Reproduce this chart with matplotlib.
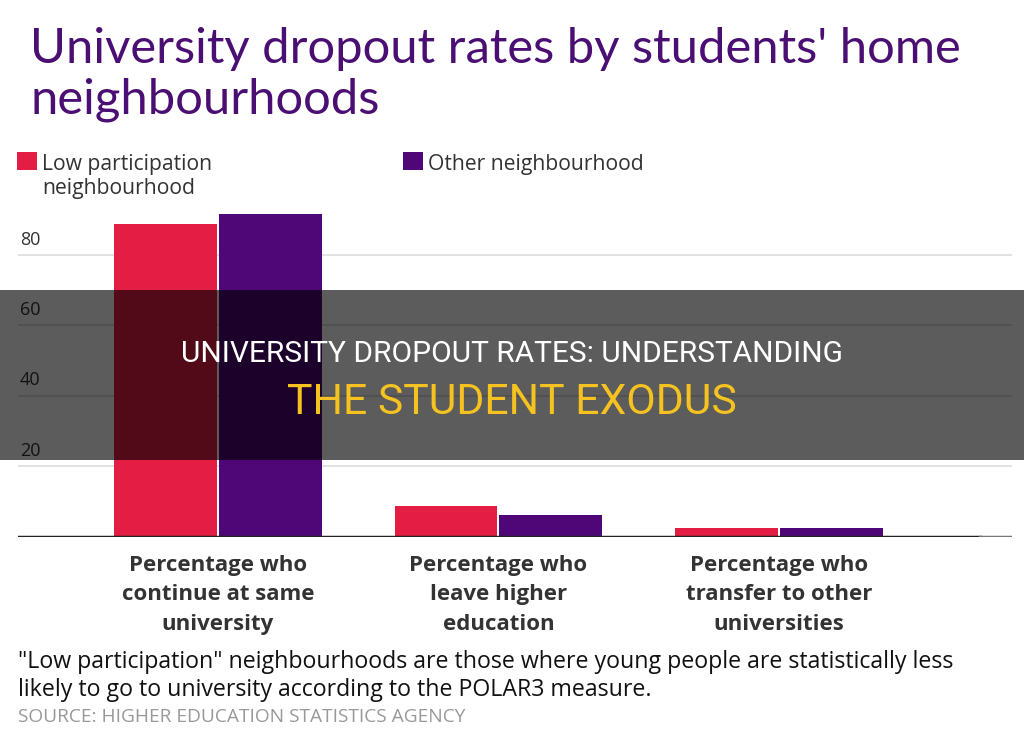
import matplotlib
matplotlib.use("Agg")
import matplotlib.pyplot as plt
from matplotlib.patches import Rectangle
import numpy as np

categories = ["Percentage who\ncontinue at same\nuniversity",
              "Percentage who\nleave higher\neducation",
              "Percentage who\ntransfer to other\nuniversities"]
series_names = ["Low participation\nneighbourhood", "Other neighbourhood"]
low_participation = [88.8, 8.8, 2.4]
other_neighbourhood = [91.6, 6.0, 2.3]
yticks = [20, 40, 60, 80]

RED = "#E31D43"
PURPLE = "#4F0677"
TITLE_C = "#4B0F73"
BODY = "Open Sans"

W, H = 1024, 736
fig = plt.figure(figsize=(W / 100, H / 100), dpi=100)
fig.patch.set_facecolor("white")

def fx(px):
    return px / W

def fy(py):
    return 1 - py / H

ymax = 98
ax = fig.add_axes([fx(18), fy(536.5), fx(1012) - fx(18), 98 * 3.52 / H])
x = np.arange(len(categories))
bw = 0.367
off = 0.187
ax.bar(x - off, low_participation, bw, color=RED, zorder=3)
ax.bar(x + off, other_neighbourhood, bw, color=PURPLE, zorder=3)
ax.set_xlim(-0.713, 2.831)
ax.set_ylim(0, ymax)
for s in ax.spines.values():
    s.set_visible(False)
ax.set_xticks([])
ax.set_yticks(yticks)
ax.set_yticklabels([])
ax.tick_params(axis="y", length=0)
ax.grid(axis="y", color="#dddddd", linewidth=1.2, zorder=0)
ax.axhline(0, color="#222222", linewidth=2.5, zorder=4, xmax=(980 - 18) / (1012 - 18))
ax.axhline(0, color="#777777", linewidth=2.5, zorder=4, xmin=(980 - 18) / (1012 - 18))
ax.set_facecolor("none")
for t in yticks:
    ax.text(0.002, t + 1.8, str(t), transform=ax.get_yaxis_transform(),
            ha="left", va="bottom", fontsize=13, color="#333333", family=BODY)

# category labels
for i, c in enumerate(categories):
    ax.text(i, -5.25, c, transform=ax.transData, ha="center", va="top",
            fontsize=16, fontweight="bold", color="#333333", family=BODY,
            linespacing=1.52)

# title
fig.text(fx(30), fy(63), "University dropout rates by students' home",
         fontsize=35.3, color=TITLE_C, family="Lato", ha="left", va="baseline")
fig.text(fx(30), fy(113), "neighbourhoods",
         fontsize=35.3, color=TITLE_C, family="Lato", ha="left", va="baseline")

# legend
fig.patches.append(Rectangle((fx(17), fy(170)), fx(20), 18 / H, color=RED, lw=0,
                             transform=fig.transFigure, figure=fig))
fig.text(fx(42), fy(170), series_names[0].split("\n")[0], fontsize=15.2, color="#333333",
         family=BODY, ha="left", va="baseline")
fig.text(fx(42), fy(194), series_names[0].split("\n")[1], fontsize=15.2, color="#333333",
         family=BODY, ha="left", va="baseline")
fig.patches.append(Rectangle((fx(403), fy(170)), fx(20), 18 / H, color=PURPLE, lw=0,
                             transform=fig.transFigure, figure=fig))
fig.text(fx(428), fy(170), series_names[1], fontsize=15.2, color="#333333",
         family=BODY, ha="left", va="baseline")

# footnote
fig.text(fx(18), fy(668), '"Low participation" neighbourhoods are those where young people are statistically less',
         fontsize=16.7, color="#111111", family=BODY, ha="left", va="baseline")
fig.text(fx(18), fy(696), "likely to go to university according to the POLAR3 measure.",
         fontsize=16.7, color="#111111", family=BODY, ha="left", va="baseline")
fig.text(fx(18), fy(722), "SOURCE: HIGHER EDUCATION STATISTICS AGENCY",
         fontsize=13.8, color="#999999", family=BODY, ha="left", va="baseline")

# overlay band
fig.patches.append(Rectangle((0, fy(460)), 1, (460 - 290) / H, facecolor="black", lw=0,
                             alpha=0.64, transform=fig.transFigure, figure=fig, zorder=10))
fig.text(0.5, fy(362), "UNIVERSITY DROPOUT RATES: UNDERSTANDING", fontsize=21.5,
         color="white", family="Roboto", ha="center", va="baseline", zorder=11)
fig.text(0.5, fy(414), "THE STUDENT EXODUS", fontsize=30.8,
         color="#F5C220", family="Roboto", ha="center", va="baseline", zorder=11)

fig.savefig("out.png", dpi=100)
